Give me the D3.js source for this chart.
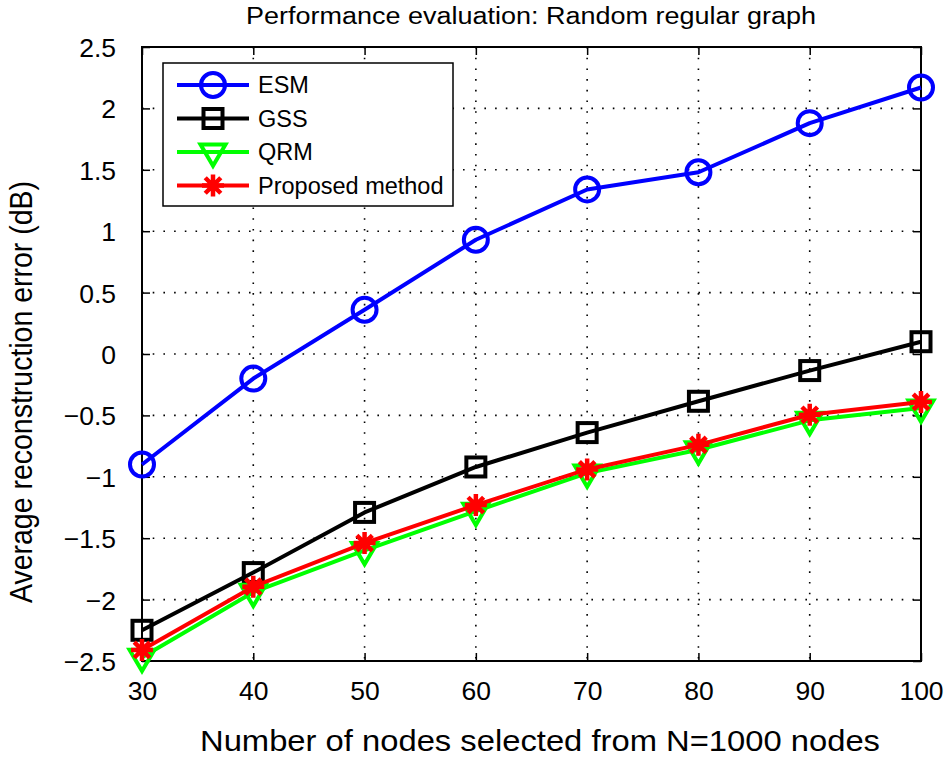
<!DOCTYPE html>
<html>
<head>
<meta charset="utf-8">
<script src="https://cdn.jsdelivr.net/npm/d3@7"></script>
<style>
  body { margin: 0; background: #fff; }
  svg { display: block; font-family: "Liberation Sans", Arial, Helvetica, sans-serif; }
</style>
</head>
<body>
<svg id="chart" width="945" height="759"></svg>
<script>
// ---- data ----
const nodes = [30, 40, 50, 60, 70, 80, 90, 100];
const esm = [-0.90, -0.20, 0.36, 0.93, 1.34, 1.48, 1.88, 2.17];
const gss = [-2.25, -1.78, -1.29, -0.92, -0.64, -0.385, -0.135, 0.10];
const qrm = [-2.47, -1.94, -1.60, -1.28, -0.97, -0.78, -0.54, -0.44];
const proposed = [-2.41, -1.895, -1.54, -1.23, -0.94, -0.74, -0.495, -0.39];
const seriesNames = ["ESM", "GSS", "QRM", "Proposed method"];
const xTicks = [30, 40, 50, 60, 70, 80, 90, 100];
const yTicks = [-2.5, -2, -1.5, -1, -0.5, 0, 0.5, 1, 1.5, 2, 2.5];
const titleText = "Performance evaluation: Random regular graph";
const xLabelText = "Number of nodes selected from N=1000 nodes";
const yLabelText = "Average reconstruction error (dB)";

const series = [
  { name: seriesNames[0], values: esm, color: "#0000ff", marker: "circle" },
  { name: seriesNames[1], values: gss, color: "#000000", marker: "square" },
  { name: seriesNames[2], values: qrm, color: "#00ff00", marker: "triangle" },
  { name: seriesNames[3], values: proposed, color: "#ff0000", marker: "asterisk" }
];

// ---- layout ----
const svg = d3.select("#chart");
const L = 142, R = 921, T = 47, B = 661;
const x = d3.scaleLinear().domain([30, 100]).range([L, R]);
const y = d3.scaleLinear().domain([-2.5, 2.5]).range([B, T]);

const fmt = v => {
  const s = String(v);
  return s.startsWith("-") ? "\u2212" + s.slice(1) : s;
};

// grid
const grid = svg.append("g");
grid.selectAll("line.gx").data(xTicks.slice(1, -1)).join("line")
  .attr("x1", d => x(d)).attr("x2", d => x(d)).attr("y1", T).attr("y2", B)
  .attr("stroke", "#000").attr("stroke-width", 1.6).attr("stroke-dasharray", "1.6,9.1");
grid.selectAll("line.gy").data(yTicks.slice(1, -1)).join("line")
  .attr("y1", d => y(d)).attr("y2", d => y(d)).attr("x1", L).attr("x2", R)
  .attr("stroke", "#000").attr("stroke-width", 1.6).attr("stroke-dasharray", "1.6,9.1");

// axes with inward ticks on all four sides
const tickLen = 8;
const axB = svg.append("g").attr("transform", `translate(0,${B})`)
  .call(d3.axisBottom(x).tickValues(xTicks).tickSizeInner(-tickLen).tickSizeOuter(0).tickPadding(20).tickFormat(d => d));
const axT = svg.append("g").attr("transform", `translate(0,${T})`)
  .call(d3.axisTop(x).tickValues(xTicks).tickSizeInner(-tickLen).tickSizeOuter(0).tickFormat(""));
const axL = svg.append("g").attr("transform", `translate(${L},0)`)
  .call(d3.axisLeft(y).tickValues(yTicks).tickSizeInner(-tickLen).tickSizeOuter(0).tickPadding(26).tickFormat(fmt));
const axR = svg.append("g").attr("transform", `translate(${R},0)`)
  .call(d3.axisRight(y).tickValues(yTicks).tickSizeInner(-tickLen).tickSizeOuter(0).tickFormat(""));
[axB, axT, axL, axR].forEach(a => {
  a.select(".domain").remove();
  a.selectAll(".tick line").attr("stroke", "#000").attr("stroke-width", 1.5);
  a.selectAll("text").attr("fill", "#000").style("font-size", "26.5px")
   .style("font-family", "'Liberation Sans', Arial, sans-serif");
});
axB.selectAll("text").attr("dy", "0.71em");
axL.selectAll("text").attr("dy", "0.36em");

// frame
svg.append("rect").attr("x", L).attr("y", T).attr("width", R - L).attr("height", B - T)
  .attr("fill", "none").attr("stroke", "#000").attr("stroke-width", 2);

// markers
function drawMarker(g, type, color, cx, cy) {
  if (type === "circle") {
    g.append("circle").attr("cx", cx).attr("cy", cy).attr("r", 12)
      .attr("fill", "none").attr("stroke", color).attr("stroke-width", 4);
  } else if (type === "square") {
    g.append("rect").attr("x", cx - 9.5).attr("y", cy - 9.5).attr("width", 19).attr("height", 19)
      .attr("fill", "none").attr("stroke", color).attr("stroke-width", 4);
  } else if (type === "triangle") {
    const s = 12.5;
    g.append("path").attr("d", `M${cx - s},${cy - s * 0.6}L${cx + s},${cy - s * 0.6}L${cx},${cy + s * 1.1}Z`)
      .attr("fill", "none").attr("stroke", color).attr("stroke-width", 4).attr("stroke-linejoin", "miter");
  } else if (type === "asterisk") {
    const s = 11;
    const p = [];
    for (let k = 0; k < 4; k++) {
      const a = k * Math.PI / 4;
      p.push(`M${cx - s * Math.cos(a)},${cy - s * Math.sin(a)}L${cx + s * Math.cos(a)},${cy + s * Math.sin(a)}`);
    }
    g.append("path").attr("d", p.join("")).attr("stroke", color).attr("stroke-width", 4.5).attr("fill", "none");
  }
}

const line = d3.line().x((d, i) => x(nodes[i])).y(d => y(d));
series.forEach(s => {
  const g = svg.append("g");
  g.append("path").datum(s.values).attr("d", line)
    .attr("fill", "none").attr("stroke", s.color).attr("stroke-width", 4).attr("stroke-linejoin", "round");
  s.values.forEach((v, i) => drawMarker(g, s.marker, s.color, x(nodes[i]), y(v)));
});

// legend
const lg = svg.append("g");
lg.append("rect").attr("x", 163).attr("y", 63).attr("width", 290).attr("height", 143)
  .attr("fill", "#fff").attr("stroke", "#000").attr("stroke-width", 1.5);
series.forEach((s, i) => {
  const cy = 85 + i * 33.5;
  lg.append("line").attr("x1", 177).attr("x2", 249).attr("y1", cy).attr("y2", cy)
    .attr("stroke", s.color).attr("stroke-width", 4);
  drawMarker(lg, s.marker, s.color, 213, cy);
  lg.append("text").attr("x", 258).attr("y", cy).attr("dy", "0.36em")
    .style("font-size", "23.5px").text(s.name);
});

// title and labels
svg.append("text").attr("x", 531).attr("y", 24).attr("text-anchor", "middle")
  .attr("textLength", 570).attr("lengthAdjust", "spacingAndGlyphs")
  .style("font-size", "23px").text(titleText);
svg.append("text").attr("x", 540).attr("y", 751).attr("text-anchor", "middle")
  .attr("textLength", 680).attr("lengthAdjust", "spacingAndGlyphs")
  .style("font-size", "29px").text(xLabelText);
svg.append("text").attr("transform", "translate(32,392) scale(1.1,1) rotate(-90)").attr("text-anchor", "middle")
  .style("font-size", "28.5px").text(yLabelText);
</script>
</body>
</html>
